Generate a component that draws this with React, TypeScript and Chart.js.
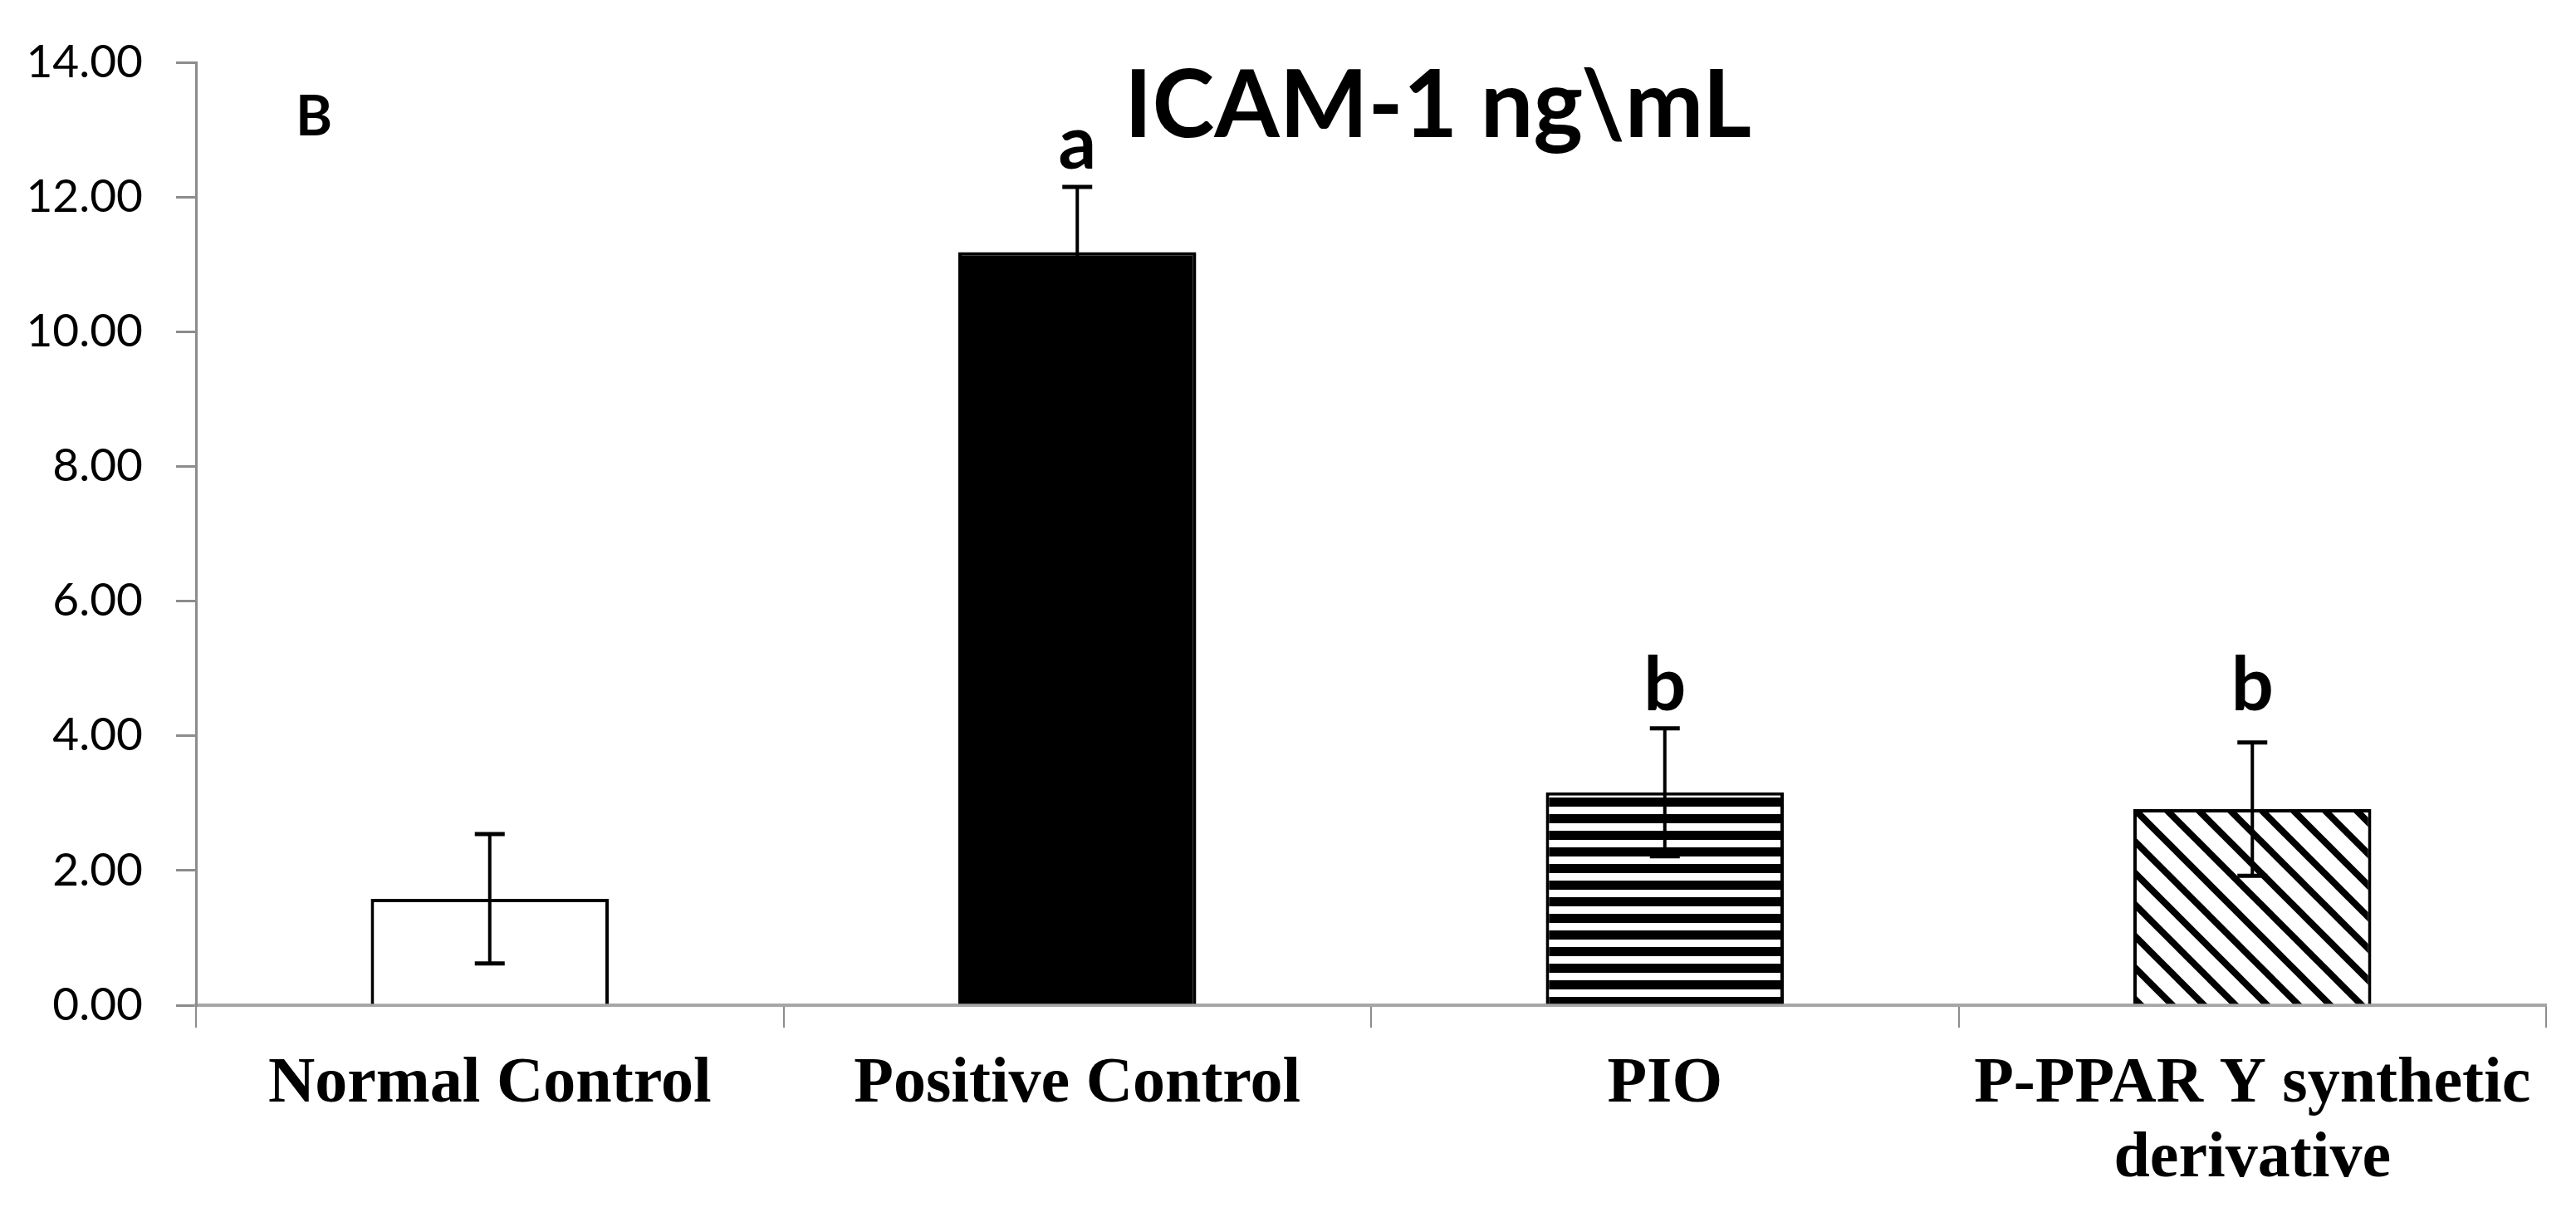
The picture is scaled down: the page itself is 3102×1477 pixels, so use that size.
import React, { useEffect, useRef } from "react";
import { Chart, registerables } from "chart.js";

Chart.register(...registerables);

// ---- data ----
const categories: (string | string[])[] = [
  "Normal Control",
  "Positive Control",
  "PIO",
  ["P-PPAR Y synthetic", "derivative"],
];
const means = [1.58, 11.18, 3.16, 2.91];
const errors = [0.96, 0.97, 0.95, 0.99];
const letters = ["", "a", "b", "b"];
const yMin = 0;
const yMax = 14;
const yStep = 2;
const titleText = "ICAM-1 ng\\mL";
const panelLabel = "B";

function stripePattern(): CanvasPattern | string {
  const c = document.createElement("canvas");
  c.width = 8;
  c.height = 20;
  const g = c.getContext("2d")!;
  g.fillStyle = "#ffffff";
  g.fillRect(0, 0, 8, 20);
  g.fillStyle = "#000000";
  g.fillRect(0, 0, 8, 11);
  return g.createPattern(c, "repeat") || "#000";
}

function diagPattern(): CanvasPattern | string {
  const s = 38;
  const c = document.createElement("canvas");
  c.width = s;
  c.height = s;
  const g = c.getContext("2d")!;
  g.fillStyle = "#ffffff";
  g.fillRect(0, 0, s, s);
  g.strokeStyle = "#000000";
  g.lineWidth = 8;
  g.lineCap = "square";
  for (const x0 of [-s, 0, s]) {
    g.beginPath();
    g.moveTo(x0, 0);
    g.lineTo(x0 + s, s);
    g.stroke();
  }
  return g.createPattern(c, "repeat") || "#fff";
}

const overlayPlugin = {
  id: "overlay",
  afterDatasetsDraw(chart: any) {
    const ctx = chart.ctx as CanvasRenderingContext2D;
    const meta = chart.getDatasetMeta(0);
    const ys = chart.scales.y;
    ctx.save();
    ctx.strokeStyle = "#000";
    const tops = means.map((m, i) => ys.getPixelForValue(m + errors[i]));
    for (let i = 0; i < means.length; i++) {
      const bar = meta.data[i];
      const x = bar.x;
      const yt = tops[i];
      const yb = ys.getPixelForValue(means[i] - errors[i]);
      ctx.lineWidth = 4;
      ctx.beginPath();
      ctx.moveTo(x, yt);
      ctx.lineTo(x, yb);
      ctx.stroke();
      ctx.lineWidth = 5;
      ctx.beginPath();
      ctx.moveTo(x - 18, yt);
      ctx.lineTo(x + 18, yt);
      ctx.moveTo(x - 18, yb);
      ctx.lineTo(x + 18, yb);
      ctx.stroke();
      if (letters[i]) {
        // same-letter groups share one baseline, above the highest error bar of the group
        let top = yt;
        letters.forEach((l, j) => {
          if (l === letters[i]) top = Math.min(top, tops[j]);
        });
        ctx.fillStyle = "#000";
        ctx.font = "bold 90px Lato";
        ctx.textAlign = "center";
        ctx.textBaseline = "alphabetic";
        ctx.fillText(letters[i], x, top - 22);
      }
    }
    ctx.restore();
  },
  afterDraw(chart: any) {
    const ctx = chart.ctx as CanvasRenderingContext2D;
    const area = chart.chartArea;
    ctx.save();
    ctx.fillStyle = "#000";
    ctx.textAlign = "left";
    ctx.textBaseline = "alphabetic";
    // title
    ctx.font = "bold 100px Lato";
    const w = ctx.measureText(titleText).width;
    const size = Math.min(124, (100 * 755) / w);
    ctx.font = `bold ${size.toFixed(1)}px Lato`;
    ctx.fillText(titleText, area.left + 1118, area.top + 90);
    // panel label
    ctx.font = "bold 67px Lato";
    ctx.fillText(panelLabel, area.left + 120, area.top + 88);
    ctx.restore();
  },
};

export default function App() {
  const ref = useRef<HTMLCanvasElement | null>(null);
  useEffect(() => {
    if (!ref.current) return;
    const fills = ["#ffffff", "#000000", stripePattern(), diagPattern()];
    const chart = new Chart(ref.current, {
      type: "bar",
      data: {
        labels: categories as any,
        datasets: [
          {
            data: means,
            backgroundColor: fills as any,
            borderColor: "#000",
            borderWidth: 4,
            categoryPercentage: 1,
            barPercentage: 0.405,
          },
        ],
      },
      options: {
        animation: false,
        responsive: true,
        maintainAspectRatio: false,
        devicePixelRatio: 1,
        layout: { padding: { top: 75, right: 36, left: 0, bottom: 0 } },
        plugins: {
          legend: { display: false },
          tooltip: { enabled: false },
          title: { display: false },
        },
        scales: {
          x: {
            offset: true,
            grid: {
              offset: true,
              drawOnChartArea: false,
              drawTicks: true,
              tickLength: 27,
              lineWidth: 2,
              color: (c: any) => (c.index >= categories.length ? "rgba(0,0,0,0)" : "#8c8c8c"),
            },
            border: { display: true, color: "#a6a6a6", width: 4 },
            ticks: {
              color: "#000",
              font: { family: "Liberation Serif", size: 78, weight: "bold", lineHeight: 1.15 },
              padding: 24,
              maxRotation: 0,
              autoSkip: false,
            },
            afterFit: (s: any) => {
              s.height = 267;
            },
          },
          y: {
            min: yMin,
            max: yMax,
            ticks: {
              stepSize: yStep,
              callback: (v: any) => Number(v).toFixed(2),
              font: { family: "Lato", size: 55 },
              color: "#000",
              padding: 40,
            },
            grid: {
              drawOnChartArea: false,
              drawTicks: true,
              tickLength: 24,
              lineWidth: 3,
              color: "#8c8c8c",
            },
            border: { display: true, color: "#8c8c8c", width: 3 },
            afterFit: (s: any) => {
              s.width = 236;
            },
          },
        },
      } as any,
      plugins: [overlayPlugin],
    });
    return () => chart.destroy();
  }, []);
  return (
    <div
      style={{
        position: "absolute",
        left: 0,
        top: 0,
        width: "3102px",
        height: "1477px",
        background: "#fff",
      }}
    >
      <canvas ref={ref} />
    </div>
  );
}
